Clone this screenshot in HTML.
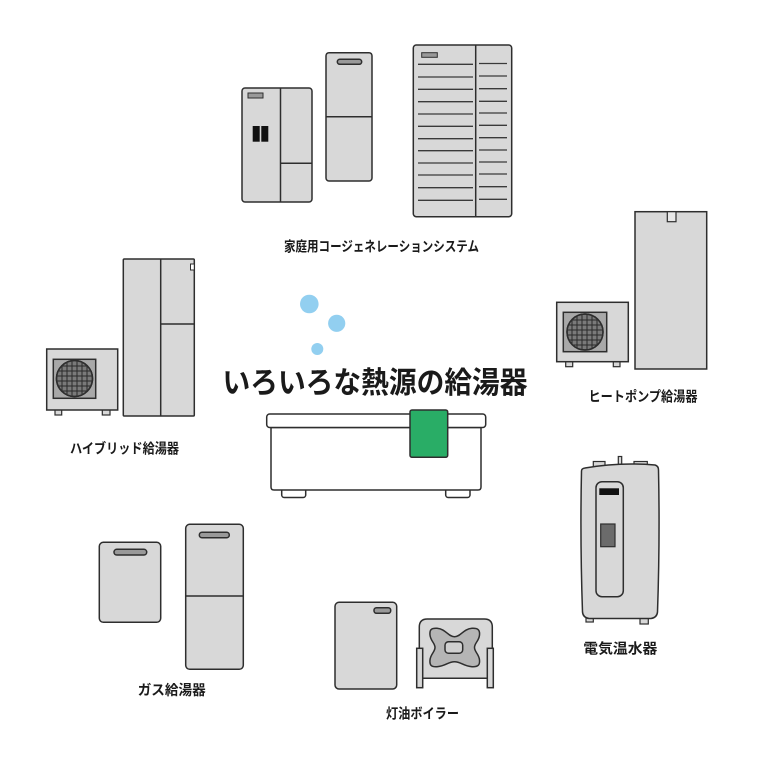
<!DOCTYPE html>
<html><head><meta charset="utf-8"><style>
html,body{margin:0;padding:0;background:#fff;}
svg{display:block;}
text{font-family:"Liberation Sans","Noto Sans CJK JP",sans-serif;font-weight:bold;fill:#1a1a1a;}
</style></head><body>
<svg width="780" height="780" viewBox="0 0 780 780" xmlns="http://www.w3.org/2000/svg">
<defs>
<clipPath id="c1"><circle cx="74.5" cy="378.5" r="18"/></clipPath>
<clipPath id="c2"><circle cx="585" cy="332" r="18"/></clipPath>
</defs>
<rect width="780" height="780" fill="#fff"/>
<g stroke="#2e2e2e" stroke-width="1.5" fill="#d8d8d8">

<!-- Cogeneration -->
<rect x="242" y="88" width="70" height="114" rx="3"/>
<line x1="280.5" y1="88" x2="280.5" y2="202"/>
<line x1="280.5" y1="163.3" x2="312" y2="163.3"/>
<rect x="248" y="93" width="15" height="5" fill="#999" stroke-width="1"/>
<rect x="252.7" y="126" width="7" height="15.7" fill="#111" stroke="none"/>
<rect x="261.3" y="126" width="7" height="15.7" fill="#111" stroke="none"/>

<rect x="326" y="52.7" width="46" height="128.3" rx="3"/>
<line x1="326" y1="116.7" x2="372" y2="116.7"/>
<rect x="337.3" y="59.3" width="24.4" height="5" rx="2.5" fill="#999"/>

<rect x="413.3" y="45" width="98.4" height="171.7" rx="3"/>
<line x1="475.7" y1="45" x2="475.7" y2="216.7"/>
<rect x="421.7" y="52.7" width="15.6" height="4.6" fill="#999" stroke-width="1"/>
<g stroke="#3a3a3a" stroke-width="1.3">
<line x1="418" y1="64.3" x2="473" y2="64.3"/><line x1="479" y1="63.5" x2="507" y2="63.5"/>
<line x1="418" y1="77" x2="473" y2="77"/><line x1="479" y1="76" x2="507" y2="76"/>
<line x1="418" y1="89.3" x2="473" y2="89.3"/><line x1="479" y1="88.7" x2="507" y2="88.7"/>
<line x1="418" y1="101.7" x2="473" y2="101.7"/><line x1="479" y1="101.3" x2="507" y2="101.3"/>
<line x1="418" y1="114" x2="473" y2="114"/><line x1="479" y1="113" x2="507" y2="113"/>
<line x1="418" y1="126.3" x2="473" y2="126.3"/><line x1="479" y1="125.3" x2="507" y2="125.3"/>
<line x1="418" y1="138.7" x2="473" y2="138.7"/><line x1="479" y1="137.7" x2="507" y2="137.7"/>
<line x1="418" y1="150.7" x2="473" y2="150.7"/><line x1="479" y1="150" x2="507" y2="150"/>
<line x1="418" y1="163" x2="473" y2="163"/><line x1="479" y1="162" x2="507" y2="162"/>
<line x1="418" y1="175" x2="473" y2="175"/><line x1="479" y1="174" x2="507" y2="174"/>
<line x1="418" y1="187.7" x2="473" y2="187.7"/><line x1="479" y1="186.7" x2="507" y2="186.7"/>
<line x1="418" y1="200.3" x2="473" y2="200.3"/><line x1="479" y1="199.3" x2="507" y2="199.3"/>
</g>

<!-- Hybrid -->
<rect x="55" y="408" width="6.7" height="7" stroke-width="1.2"/>
<rect x="102.3" y="408" width="7.7" height="7" stroke-width="1.2"/>
<rect x="46.7" y="349" width="71" height="61"/>
<rect x="53.3" y="359.3" width="42.4" height="39" fill="#a8a8a8"/>
<circle cx="74.5" cy="378.5" r="18" fill="#7a7a7a"/>
<g clip-path="url(#c1)" stroke="#2a2a2a" stroke-width="1">
<line x1="56" y1="366" x2="93" y2="366"/><line x1="56" y1="371" x2="93" y2="371"/>
<line x1="56" y1="376" x2="93" y2="376"/><line x1="56" y1="381" x2="93" y2="381"/>
<line x1="56" y1="386" x2="93" y2="386"/><line x1="56" y1="391" x2="93" y2="391"/>
<line x1="62" y1="360" x2="62" y2="397"/><line x1="67" y1="360" x2="67" y2="397"/>
<line x1="72" y1="360" x2="72" y2="397"/><line x1="77" y1="360" x2="77" y2="397"/>
<line x1="82" y1="360" x2="82" y2="397"/><line x1="87" y1="360" x2="87" y2="397"/>
</g>
<circle cx="74.5" cy="378.5" r="18" fill="none"/>
<rect x="123.3" y="259" width="71" height="157" rx="1"/>
<line x1="160.7" y1="259" x2="160.7" y2="416"/>
<line x1="160.7" y1="324" x2="194.3" y2="324"/>
<rect x="190.5" y="264" width="3.8" height="6" fill="#fff" stroke-width="1"/>

<!-- Heat pump -->
<rect x="565.7" y="359.7" width="7" height="7" stroke-width="1.2"/>
<rect x="613.3" y="359.7" width="6.7" height="7" stroke-width="1.2"/>
<rect x="556.7" y="302.3" width="71.6" height="59.4"/>
<rect x="563.3" y="312.3" width="43.4" height="39.4" fill="#a8a8a8"/>
<circle cx="585" cy="332" r="18" fill="#7a7a7a"/>
<g clip-path="url(#c2)" stroke="#2a2a2a" stroke-width="1">
<line x1="566" y1="320" x2="604" y2="320"/><line x1="566" y1="325" x2="604" y2="325"/>
<line x1="566" y1="330" x2="604" y2="330"/><line x1="566" y1="335" x2="604" y2="335"/>
<line x1="566" y1="340" x2="604" y2="340"/><line x1="566" y1="345" x2="604" y2="345"/>
<line x1="572" y1="313" x2="572" y2="351"/><line x1="577" y1="313" x2="577" y2="351"/>
<line x1="582" y1="313" x2="582" y2="351"/><line x1="587" y1="313" x2="587" y2="351"/>
<line x1="592" y1="313" x2="592" y2="351"/><line x1="597" y1="313" x2="597" y2="351"/>
</g>
<circle cx="585" cy="332" r="18" fill="none"/>
<rect x="635" y="211.7" width="71.7" height="157.3"/>
<rect x="667.3" y="211.7" width="8.7" height="10" fill="#e8e8e8" stroke-width="1.2"/>

<!-- Electric water heater -->
<rect x="593.3" y="461.5" width="11.7" height="6" stroke-width="1.2"/>
<rect x="618.3" y="456.5" width="3.4" height="9" stroke-width="1.2"/>
<rect x="634" y="461.5" width="13.3" height="6" stroke-width="1.2"/>
<rect x="586" y="614" width="7.3" height="8" stroke-width="1.2"/>
<rect x="640" y="614" width="8.3" height="10" stroke-width="1.2"/>
<path d="M585,468 Q620,462 655,465 Q658.5,466 658.5,470 Q660,540 657.5,612 Q657,617.5 651,618.5 L589,618.5 Q583,617.5 582.5,612 Q580,540 581.5,471 Q581.5,468.5 585,468 Z"/>
<rect x="596" y="481.7" width="27.3" height="115" rx="6"/>
<rect x="599.3" y="488.3" width="19.7" height="6.7" fill="#111" stroke="none"/>
<rect x="600.7" y="524" width="14.3" height="22.7" fill="#6b6b6b" stroke-width="1.2"/>

<!-- Gas -->
<rect x="99.3" y="542.3" width="61.4" height="80" rx="4"/>
<rect x="114" y="549.3" width="32.7" height="5.7" rx="2.8" fill="#999"/>
<rect x="185.7" y="524.3" width="57.6" height="145" rx="4"/>
<line x1="185.7" y1="596" x2="243.3" y2="596"/>
<rect x="199.3" y="532.3" width="30" height="5.4" rx="2.7" fill="#999"/>

<!-- Kerosene -->
<rect x="335" y="602.3" width="61.7" height="86.7" rx="4"/>
<rect x="374" y="607.7" width="16.7" height="5.6" rx="2.5" fill="#999"/>
<path d="M419.3,678.3 L419.3,627 Q419.3,619 427.3,619 L484.3,619 Q492.3,619 492.3,627 L492.3,678.3 Z"/>
<path d="M437,628.3 C446,629 448,636.7 454.5,636.7 C461,636.7 463,629 472,628.3 C478,628 480,630 479.5,635 C479,641 474.5,643 474.5,647.5 C474.5,652 479,654 479.5,660 C480,665 478,667 472,666.7 C463,666 461,661.7 454.5,661.7 C448,661.7 446,666 437,666.7 C431,667 429.5,665 430,660 C430.5,654 435,652 435,647.5 C435,643 430.5,641 430,635 C429.5,630 431,628 437,628.3 Z" fill="#b5b5b5"/>
<rect x="445" y="641.7" width="17.7" height="11.6" rx="3.5" fill="#d0d0d0"/>
<rect x="416.7" y="648.3" width="6" height="39.4"/>
<rect x="487.3" y="648.3" width="6" height="39.4"/>

<!-- Bathtub -->
<rect x="281.7" y="486" width="24" height="11.5" rx="2.5" fill="#fff"/>
<rect x="445.7" y="486" width="24.3" height="11.5" rx="2.5" fill="#fff"/>
<path d="M271,427.5 L271,487 Q271,490 274,490 L478,490 Q481,490 481,487 L481,427.5 Z" fill="#fff"/>
<rect x="266.7" y="414" width="219" height="13.5" rx="3" fill="#fff"/>
<rect x="410" y="410" width="37.7" height="47.3" rx="2" fill="#29ad66"/>
</g>

<!-- Bubbles -->
<circle cx="309.3" cy="304" r="9.3" fill="#92cff0"/>
<circle cx="336.7" cy="323.3" r="8.6" fill="#92cff0"/>
<circle cx="317.3" cy="349" r="6" fill="#92cff0"/>

<!-- Text -->
<text x="375" y="393" font-size="30" text-anchor="middle" textLength="305" lengthAdjust="spacingAndGlyphs">いろいろな熱源の給湯器</text>
<text x="381.5" y="251.7" font-size="14" text-anchor="middle" textLength="195" lengthAdjust="spacingAndGlyphs">家庭用コージェネレーションシステム</text>
<text x="124.5" y="453.3" font-size="14" text-anchor="middle" textLength="109" lengthAdjust="spacingAndGlyphs">ハイブリッド給湯器</text>
<text x="643" y="401.7" font-size="14" text-anchor="middle" textLength="109" lengthAdjust="spacingAndGlyphs">ヒートポンプ給湯器</text>
<text x="620.3" y="653.3" font-size="14" text-anchor="middle" textLength="74" lengthAdjust="spacingAndGlyphs">電気温水器</text>
<text x="171.7" y="695" font-size="14" text-anchor="middle" textLength="68" lengthAdjust="spacingAndGlyphs">ガス給湯器</text>
<text x="422.5" y="718.3" font-size="14" text-anchor="middle" textLength="73" lengthAdjust="spacingAndGlyphs">灯油ボイラー</text>
</svg>
</body></html>
